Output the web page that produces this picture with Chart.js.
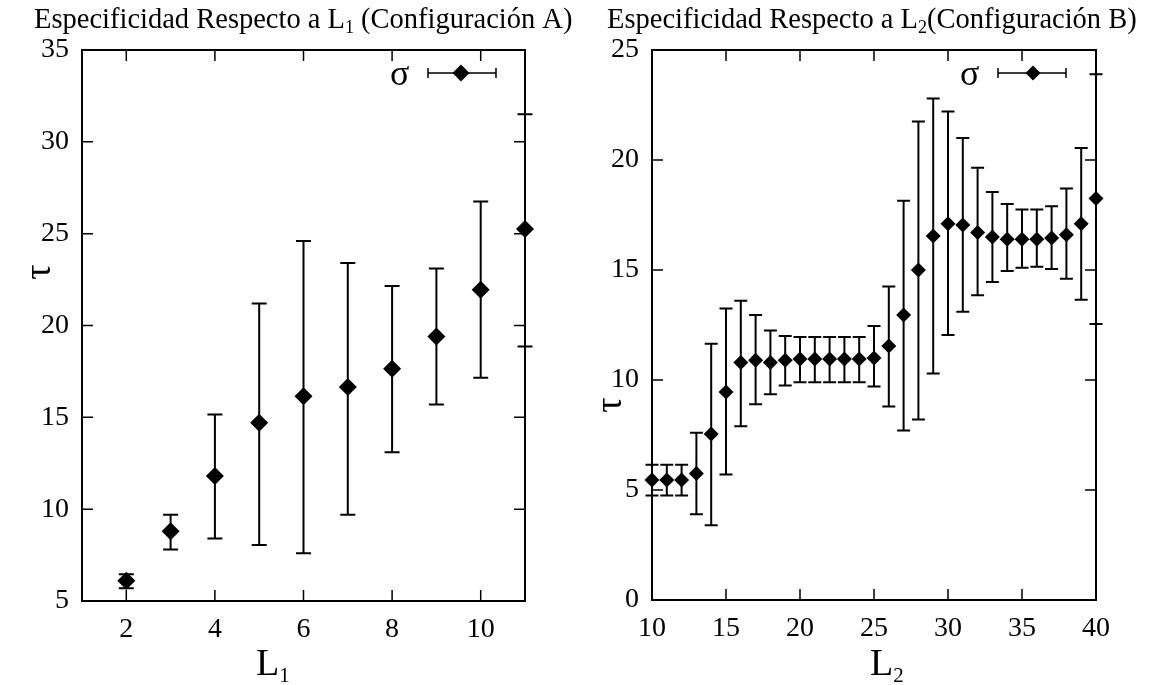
<!DOCTYPE html>
<html><head><meta charset="utf-8">
<script src="https://cdn.jsdelivr.net/npm/chart.js@4"></script>
<style>
html,body{margin:0;padding:0;background:#fff;}
#wrap{position:relative;width:1152px;height:685px;background:#fff;}
.c{position:absolute;top:0;width:576px;height:685px;}
</style></head><body>
<div id="wrap">
<div class="c" style="left:0"><canvas id="cA" width="576" height="685"></canvas></div>
<div class="c" style="left:576px"><canvas id="cB" width="576" height="685"></canvas></div>
</div>
<script>
// ---- Data: Configuración A ----
const L1 = [2, 3, 4, 5, 6, 7, 8, 9, 10, 11];
const tauA = [6.1, 8.8, 11.8, 14.7, 16.15, 16.65, 17.65, 19.4, 21.95, 25.25];
const lowA = [5.7, 7.8, 8.4, 8.05, 7.6, 9.7, 13.1, 15.7, 17.15, 18.85];
const highA = [6.45, 9.7, 15.15, 21.2, 24.6, 23.4, 22.15, 23.1, 26.75, 31.5];
const ticksXA = [2, 4, 6, 8, 10];
const ticksYA = [5, 10, 15, 20, 25, 30, 35];

// ---- Data: Configuración B ----
const L2 = [10, 11, 12, 13, 14, 15, 16, 17, 18, 19, 20, 21, 22, 23, 24, 25, 26, 27, 28, 29, 30, 31, 32, 33, 34, 35, 36, 37, 38, 39, 40];
const tauB = [5.45, 5.45, 5.45, 5.75, 7.55, 9.45, 10.8, 10.9, 10.8, 10.9, 10.95, 10.95, 10.95, 10.95, 10.95, 11.0, 11.55, 12.95, 15.0, 16.55, 17.1, 17.05, 16.7, 16.5, 16.4, 16.4, 16.4, 16.45, 16.6, 17.1, 18.25];
const lowB = [4.75, 4.75, 4.75, 3.9, 3.4, 5.7, 7.9, 8.9, 9.35, 9.75, 9.9, 9.9, 9.9, 9.9, 9.9, 9.7, 8.8, 7.7, 8.2, 10.3, 12.05, 13.1, 13.85, 14.45, 14.95, 15.1, 15.15, 15.05, 14.6, 13.65, 12.55];
const highB = [6.15, 6.15, 6.15, 7.6, 11.65, 13.25, 13.6, 12.95, 12.25, 12.0, 11.95, 11.95, 11.95, 11.95, 11.95, 12.45, 14.25, 18.15, 21.75, 22.8, 22.2, 21.0, 19.65, 18.55, 18.0, 17.75, 17.75, 17.9, 18.7, 20.55, 23.9];
const ticksXB = [10, 15, 20, 25, 30, 35, 40];
const ticksYB = [0, 5, 10, 15, 20, 25];

const FONT = "'Liberation Serif', 'Times New Roman', serif";

function textRun(ctx, x, y, parts) {
  let cx = x;
  for (const [t, size, dy] of parts) {
    ctx.font = size + 'px ' + FONT;
    ctx.fillText(t, cx, y + dy);
    cx += ctx.measureText(t).width;
  }
  return cx;
}

function makeDecor(cfg) {
  return {
    id: 'decor',
    beforeDatasetsDraw(chart) {
      const {ctx, scales: {x, y}} = chart;
      ctx.save();
      ctx.strokeStyle = '#000';
      ctx.lineWidth = cfg.errWidth;
      chart.data.datasets.forEach(ds => {
        ds.data.forEach((p, i) => {
          const px = x.getPixelForValue(p.x);
          const yl = y.getPixelForValue(ds.errLow[i]);
          const yh = y.getPixelForValue(ds.errHigh[i]);
          ctx.beginPath();
          ctx.moveTo(px, yl); ctx.lineTo(px, yh);
          ctx.moveTo(px - cfg.cap, yl); ctx.lineTo(px + cfg.cap, yl);
          ctx.moveTo(px - cfg.cap, yh); ctx.lineTo(px + cfg.cap, yh);
          ctx.stroke();
        });
      });
      ctx.restore();
    },
    afterDatasetsDraw(chart) {
      const {ctx, chartArea: a, scales: {x, y}} = chart;
      ctx.save();
      ctx.strokeStyle = '#000';
      ctx.fillStyle = '#000';
      ctx.lineWidth = 2;
      ctx.strokeRect(a.left, a.top, a.right - a.left, a.bottom - a.top);
      ctx.lineWidth = 1.5;
      ctx.beginPath();
      x.ticks.forEach(t => {
        const px = x.getPixelForValue(t.value);
        ctx.moveTo(px, a.bottom); ctx.lineTo(px, a.bottom - cfg.len);
        ctx.moveTo(px, a.top); ctx.lineTo(px, a.top + cfg.len);
      });
      y.ticks.forEach(t => {
        const py = y.getPixelForValue(t.value);
        ctx.moveTo(a.left, py); ctx.lineTo(a.left + cfg.len, py);
        ctx.moveTo(a.right, py); ctx.lineTo(a.right - cfg.len, py);
      });
      ctx.stroke();

      // legend: sigma with error bar symbol
      const lg = cfg.legend;
      ctx.textBaseline = 'alphabetic';
      ctx.textAlign = 'left';
      ctx.font = lg.size + 'px ' + FONT;
      ctx.fillText('σ', lg.sx, lg.sy);
      ctx.lineWidth = 1.5;
      ctx.beginPath();
      ctx.moveTo(lg.x0, lg.y); ctx.lineTo(lg.x1, lg.y);
      ctx.moveTo(lg.x0, lg.y - 5); ctx.lineTo(lg.x0, lg.y + 5);
      ctx.moveTo(lg.x1, lg.y - 5); ctx.lineTo(lg.x1, lg.y + 5);
      ctx.stroke();
      ctx.beginPath();
      ctx.moveTo(lg.xm - lg.r, lg.y); ctx.lineTo(lg.xm, lg.y - lg.r);
      ctx.lineTo(lg.xm + lg.r, lg.y); ctx.lineTo(lg.xm, lg.y + lg.r);
      ctx.closePath(); ctx.fill();

      // title
      textRun(ctx, cfg.title.x, cfg.title.y, cfg.title.parts);
      // x label
      textRun(ctx, cfg.xlab.x, cfg.xlab.y, cfg.xlab.parts);
      // y label (rotated)
      ctx.save();
      ctx.translate(cfg.ylab.x, cfg.ylab.y);
      ctx.rotate(-Math.PI / 2);
      ctx.textAlign = 'center';
      ctx.textBaseline = 'middle';
      ctx.font = cfg.ylab.size + 'px ' + FONT;
      ctx.fillText('τ', 0, 0);
      ctx.restore();
      ctx.restore();
    }
  };
}

function makeChart(id, xs, ys, lo, hi, tx, ty, xr, yr, lay, decor) {
  return new Chart(document.getElementById(id), {
    type: 'scatter',
    data: {
      datasets: [{
        data: xs.map((v, i) => ({x: v, y: ys[i]})),
        errLow: lo,
        errHigh: hi,
        pointStyle: 'rectRot',
        pointRadius: decor.r,
        pointHoverRadius: decor.r,
        backgroundColor: '#000',
        borderColor: '#000',
        borderWidth: 0,
        showLine: false,
        clip: false
      }]
    },
    options: {
      responsive: false,
      animation: false,
      events: [],
      layout: {padding: {left: 0, right: lay.right, top: lay.top, bottom: 0}},
      plugins: {legend: {display: false}, tooltip: {enabled: false}, title: {display: false}},
      scales: {
        x: {
          type: 'linear', min: xr[0], max: xr[1],
          afterBuildTicks: s => { s.ticks = tx.map(v => ({value: v})); },
          afterFit: s => { s.height = lay.xh; },
          grid: {display: false, drawTicks: false},
          border: {display: false},
          ticks: {color: '#000', font: {family: FONT, size: 28}, padding: 12, maxRotation: 0, autoSkip: false}
        },
        y: {
          type: 'linear', min: yr[0], max: yr[1],
          afterBuildTicks: s => { s.ticks = ty.map(v => ({value: v})); },
          afterFit: s => { s.width = lay.yw; },
          grid: {display: false, drawTicks: false},
          border: {display: false},
          ticks: {color: '#000', font: {family: FONT, size: 28}, padding: 13, autoSkip: false}
        }
      }
    },
    plugins: [makeDecor(decor)]
  });
}

makeChart('cA', L1, tauA, lowA, highA, ticksXA, ticksYA, [1, 11], [5, 35],
  {right: 51, top: 50, xh: 84, yw: 82},
  {r: 9, cap: 7.5, errWidth: 2, len: 11,
   legend: {size: 36, sx: 390, sy: 85, x0: 428, x1: 496, xm: 461, y: 73, r: 8.5},
   title: {x: 34, y: 28, parts: [['Especificidad Respecto a L', 28.5, 0], ['1', 18, 5], [' (Configuración A)', 28.5, 0]]},
   xlab: {x: 256, y: 675, parts: [['L', 38, 0], ['1', 21, 7]]},
   ylab: {x: 40, y: 272, size: 38}
  });

makeChart('cB', L2, tauB, lowB, highB, ticksXB, ticksYB, [10, 40], [0, 25],
  {right: 56, top: 50, xh: 85, yw: 76},
  {r: 7.5, cap: 6.5, errWidth: 2, len: 11,
   legend: {size: 36, sx: 384, sy: 85, x0: 422, x1: 490, xm: 457, y: 73, r: 7.5},
   title: {x: 31, y: 28, parts: [['Especificidad Respecto a L', 28.5, 0], ['2', 18, 5], ['(Configuración B)', 28.5, 0]]},
   xlab: {x: 294, y: 675, parts: [['L', 38, 0], ['2', 21, 7]]},
   ylab: {x: 35, y: 405, size: 38}
  });
</script>
</body></html>
